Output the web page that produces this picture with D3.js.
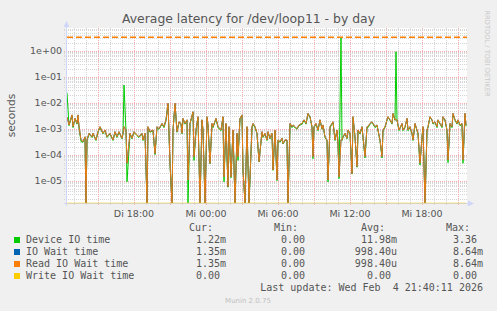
<!DOCTYPE html>
<meta charset="utf-8">
<style>
body { margin: 0; background: #f0f0f0; }
text { font-family: "DejaVu Sans", sans-serif; fill: #555; }
.mono { font-family: "DejaVu Sans Mono", monospace; font-size: 10px; white-space: pre; }
.line { fill: none; stroke-width: 1px; }
</style>
<body>
<script src="https://d3js.org/d3.v7.min.js"></script>
<script>

// sample times, minutes after Di 12:00
var minutes = [
  25,35,50,55,65,75,80,85,95,105,
  115,120,125,135,150,155,170,180,190,205,
  215,225,240,255,265,275,285,300,305,310,
  320,325,340,350,360,375,385,400,405,415,
  425,430,440,455,465,475,485,500,510,520,
  530,540,550,555,565,575,585,595,600,605,
  615,625,630,640,655,660,670,680,690,700,
  705,715,725,730,740,750,755,770,780,795,
  805,810,820,830,835,845,855,865,875,880,
  890,900,905,915,925,935,950,955,965,975,
  985,1000,1005,1015,1025,1030,1040,1050,1055,1065,
  1075,1080,1090,1100,1105,1115,1125,1130,1140,1150,
  1155,1165,1175,1185,1200,1210,1220,1230,1240,1250,
  1255,1260,1270,1280,1290,1300,1305,1315,1325,1330,
  1340,1350,1355,1365,1375,1380,1385,1395,1400,1405,
  1415,1425,1430,1440,1450,1455,1465,1475,1480,1490,
  1500,1505,1515,1525,1530,1540,1550,1555,1565,1575,
  1580,1590,1600,1605,1615,1625,1630,1640,1650,1655,
  1665,1670,1675,1685,1700,1705,1715,1725,1730,1740,
  1750,1755,1765,1775,1780,1790,1800,1805,1815,1825,
  1830,1840,1850,1855,1865,1875,1880,1890,1900,1905,
  1915,1925,1930,1940,1950,1955,1965,1975,1980,1990,
  2000,2005,2015,2020
];

// Device IO time (seconds)
var device = [
  0.024,1.3e-3,3.2e-3,1.1e-3,2.4e-3,1.5e-3,3.2e-3,1.1e-3,3.2e-4,3.0e-4,
  4.6e-4,0,3.4e-4,6.3e-4,4.6e-4,6.4e-4,3.5e-4,7.3e-4,1.1e-3,6.4e-4,
  8.4e-4,4.6e-4,6.3e-4,3.5e-4,7.3e-4,4.6e-4,7.3e-4,4.1e-4,6.3e-4,0.048,
  8.4e-4,9.1e-6,6.3e-4,4.1e-4,7.3e-4,5.4e-4,4.6e-4,6.3e-4,3.5e-4,6.4e-4,
  0,1.1e-3,7.3e-4,8.4e-4,1.0e-4,1.1e-3,9.5e-4,1.5e-3,1.1e-3,2.1e-3,
  9.0e-3,4.5e-5,0,8.4e-4,9.0e-3,7.3e-4,1.75e-3,1.5e-3,6.4e-4,2.4e-3,
  1.5e-3,2.1e-3,0,1.5e-3,4.3e-3,6.0e-5,8.4e-4,2.8e-3,0,2.1e-3,
  8.4e-4,0,2.8e-3,1.3e-3,4.5e-5,1.5e-3,1.1e-3,2.4e-3,1.1e-3,8.4e-4,
  2.8e-3,9.0e-6,1.5e-3,5.6e-6,1.1e-3,1.3e-5,8.4e-4,0,6.4e-4,6.0e-5,
  2.4e-3,3.2e-3,2.5e-5,0,1.1e-3,0,1.1e-3,1.5e-3,1.1e-3,6.4e-4,
  5.4e-5,7.3e-4,4.6e-4,6.3e-4,3.5e-4,7.3e-4,4.1e-4,6.3e-4,2.5e-5,8.4e-4,
  1.0e-5,3.5e-4,3.0e-4,4.1e-4,2.6e-4,3.5e-4,3.5e-4,0,1.5e-3,1.1e-3,
  1.3e-3,1.1e-3,9.5e-4,1.3e-3,1.5e-3,2.1e-3,1.5e-3,3.7e-3,2.8e-3,1.1e-3,
  7.0e-5,1.1e-3,1.5e-3,8.4e-4,2.1e-3,9.5e-4,1.3e-3,4.6e-4,3.5e-4,9.0e-6,
  1.1e-3,1.5e-3,1.75e-3,3.5e-4,8.4e-4,2.6e-4,1.2e-5,3.36,3.5e-4,4.6e-4,
  6.3e-4,4.1e-4,8.4e-4,6.3e-4,1.8e-5,2.8e-3,4.6e-4,3.3e-5,8.4e-4,6.3e-4,
  1.1e-3,4.6e-4,7.5e-5,1.1e-3,1.1e-3,1.5e-3,1.75e-3,1.5e-3,1.1e-3,1.3e-3,
  8.4e-4,3.5e-4,7.5e-5,8.4e-4,1.1e-3,2.1e-3,2.8e-3,2.1e-3,1.5e-3,3.7e-3,
  2.1e-3,0.92,2.1e-3,8.4e-4,1.5e-3,8.4e-4,1.1e-3,2.4e-3,8.4e-4,1.1e-3,
  6.3e-4,3.5e-4,1.5e-3,8.4e-4,6.3e-4,4.0e-5,4.6e-4,1.1e-3,0,8.4e-4,
  1.1e-3,2.8e-3,2.1e-3,1.5e-3,1.75e-3,1.1e-3,2.1e-3,1.5e-3,1.1e-3,2.8e-3,
  2.1e-3,8.4e-4,5.0e-5,1.5e-3,1.1e-3,3.7e-3,2.1e-3,1.5e-3,2.1e-3,1.3e-3,
  1.5e-3,4.7e-5,3.7e-3,1.22e-3
];

// Read IO Wait time (seconds); IO Wait time has the same values
var readWait = [
  2.8e-3,1.4e-3,3.4e-3,1.2e-3,2.5e-3,1.6e-3,3.4e-3,1.2e-3,3.7e-4,3.2e-4,
  4.9e-4,0,3.7e-4,6.7e-4,4.9e-4,6.7e-4,3.7e-4,7.7e-4,1.2e-3,6.7e-4,
  8.9e-4,4.9e-4,6.7e-4,3.7e-4,7.7e-4,4.9e-4,7.7e-4,4.3e-4,6.7e-4,1.2e-3,
  8.9e-4,4.7e-5,6.7e-4,4.3e-4,7.7e-4,5.7e-4,4.9e-4,6.7e-4,3.7e-4,6.7e-4,
  0,1.2e-3,7.7e-4,8.9e-4,1.1e-4,1.2e-3,1.0e-3,1.6e-3,1.2e-3,2.2e-3,
  9.5e-3,4.7e-5,0,8.9e-4,9.5e-3,7.7e-4,1.85e-3,1.6e-3,6.7e-4,2.5e-3,
  1.6e-3,2.2e-3,1.06e-5,1.6e-3,4.5e-3,8.4e-5,8.9e-4,2.9e-3,0,2.2e-3,
  8.9e-4,0,2.9e-3,1.4e-3,4.7e-5,1.6e-3,1.2e-3,2.5e-3,1.2e-3,8.9e-4,
  2.9e-3,1.4e-5,1.6e-3,5.9e-6,1.2e-3,1.4e-5,8.9e-4,0,6.7e-4,8.4e-5,
  2.5e-3,3.4e-3,2.6e-5,0,1.2e-3,0,1.2e-3,1.6e-3,1.2e-3,6.7e-4,
  5.4e-5,7.7e-4,4.9e-4,6.7e-4,3.7e-4,7.7e-4,4.3e-4,6.7e-4,2.6e-5,8.9e-4,
  1.06e-5,3.7e-4,3.2e-4,4.3e-4,2.7e-4,3.7e-4,3.7e-4,0,1.6e-3,1.2e-3,
  1.4e-3,1.2e-3,1.0e-3,1.4e-3,1.6e-3,2.2e-3,1.6e-3,3.9e-3,2.9e-3,1.2e-3,
  8.4e-5,1.2e-3,1.6e-3,8.9e-4,2.2e-3,1.0e-3,1.4e-3,4.9e-4,3.7e-4,1.06e-5,
  1.2e-3,1.6e-3,1.85e-3,3.7e-4,8.9e-4,2.7e-4,1.4e-5,3.7e-4,3.7e-4,4.9e-4,
  6.7e-4,4.3e-4,8.9e-4,6.7e-4,1.9e-5,2.9e-3,4.9e-4,3.5e-5,8.9e-4,6.7e-4,
  1.2e-3,4.9e-4,8.4e-5,1.2e-3,1.2e-3,1.6e-3,1.85e-3,1.6e-3,1.2e-3,1.4e-3,
  8.9e-4,3.7e-4,8.4e-5,8.9e-4,1.2e-3,2.2e-3,2.9e-3,2.2e-3,1.6e-3,3.9e-3,
  2.2e-3,2.2e-3,2.2e-3,8.9e-4,1.6e-3,8.9e-4,1.2e-3,2.5e-3,8.9e-4,1.2e-3,
  6.7e-4,3.7e-4,1.6e-3,8.9e-4,6.7e-4,4.7e-5,4.9e-4,1.2e-3,0,8.9e-4,
  1.2e-3,2.9e-3,2.2e-3,1.6e-3,1.85e-3,1.2e-3,2.2e-3,1.6e-3,1.2e-3,2.9e-3,
  2.2e-3,8.9e-4,6.3e-5,1.6e-3,1.2e-3,3.9e-3,2.2e-3,1.6e-3,2.2e-3,1.4e-3,
  1.6e-3,6.3e-5,3.9e-3,1.35e-3
];
var ioWait = readWait;

// Write IO Wait time stays at 0 all day
var writeMinutes = [25, 2020];
var writeWait = [0, 0];

// dashed rule near the top
var ruleValue = 3.3;

var yTickValues = [1e-5, 1e-4, 1e-3, 1e-2, 1e-1, 1];
var yTickLabels = ["1e-05", "1e-04", "1e-03", "1e-02", "1e-01", "1e+00"];
var xTickValues = [360, 720, 1080, 1440, 1800];
var xTickLabels = ["Di 18:00", "Mi 00:00", "Mi 06:00", "Mi 12:00", "Mi 18:00"];

var names = ["Device IO time", "IO Wait time", "Read IO Wait time", "Write IO Wait time"];
var colors = ["#00cc00", "#0066b3", "#ff8000", "#ffcc00"];
var curVals = ["1.22m", "1.35m", "1.35m", "0.00"];
var minVals = ["0.00", "0.00", "0.00", "0.00"];
var avgVals = ["11.98m", "998.40u", "998.40u", "0.00"];
var maxVals = ["3.36", "8.64m", "8.64m", "0.00"];

// plot box
var pLeft = 67, pRight = 467, pTop = 28, pBottom = 203;

var svg = d3.select("body").append("svg")
    .attr("width", 497)
    .attr("height", 311);

svg.append("rect").attr("width", 497).attr("height", 311).attr("fill", "#f0f0f0");
svg.append("rect")
    .attr("x", pLeft - 1).attr("y", pTop)
    .attr("width", pRight - pLeft + 1).attr("height", pBottom - pTop)
    .attr("fill", "#fff");

var x = d3.scaleLinear().domain([25, 2025]).range([pLeft, pRight]);
var y = d3.scaleLog().domain([1.39e-6, 7.47]).range([pBottom, pTop]);
function yv(v) { return v > 0 ? y(v) : pBottom; }

// grid
var isDecade = function(v) { return Math.abs(Math.log10(v) - Math.round(Math.log10(v))) < 1e-6; };
var minorY = y.ticks().filter(function(v) { return !isDecade(v); });
var majorY = y.ticks().filter(isDecade);
var grid = svg.append("g");
grid.selectAll(".hmin").data(minorY).enter().append("line")
    .attr("x1", pLeft - 3).attr("x2", pRight)
    .attr("y1", function(d) { return Math.round(y(d)) + 0.5; })
    .attr("y2", function(d) { return Math.round(y(d)) + 0.5; })
    .attr("stroke", "#d6d6d6").attr("stroke-dasharray", "1,1");
grid.selectAll(".vmin").data(d3.range(60, 2025, 60)).enter().append("line")
    .attr("y1", pTop).attr("y2", pBottom + 2)
    .attr("x1", function(d) { return Math.round(x(d)) + 0.5; })
    .attr("x2", function(d) { return Math.round(x(d)) + 0.5; })
    .attr("stroke", "#d6d6d6").attr("stroke-dasharray", "1,1");
grid.selectAll(".hmaj").data(majorY).enter().append("line")
    .attr("x1", pLeft - 3).attr("x2", pRight)
    .attr("y1", function(d) { return Math.round(y(d)) + 0.5; })
    .attr("y2", function(d) { return Math.round(y(d)) + 0.5; })
    .attr("stroke", "#f2b0b0").attr("stroke-dasharray", "1,1");
grid.selectAll(".vmaj").data(d3.range(180, 2025, 180)).enter().append("line")
    .attr("y1", pTop).attr("y2", pBottom + 3)
    .attr("x1", function(d) { return Math.round(x(d)) + 0.5; })
    .attr("x2", function(d) { return Math.round(x(d)) + 0.5; })
    .attr("stroke", "#f2b0b0").attr("stroke-dasharray", "1,1");

// axes lines and arrows
svg.append("line").attr("x1", pLeft - 0.5).attr("x2", pLeft - 0.5)
    .attr("y1", pBottom + 3).attr("y2", pTop - 4).attr("stroke", "#cfd6f8");
svg.append("path").attr("d", "M" + (pLeft - 0.5) + "," + (pTop - 7) + "l-3,6h6z").attr("fill", "#cfd6f8");
svg.append("line").attr("x1", pLeft - 3).attr("x2", pRight + 2)
    .attr("y1", pBottom + 0.5).attr("y2", pBottom + 0.5).attr("stroke", "#cfd6f8");
svg.append("path").attr("d", "M" + (pRight + 7) + "," + (pBottom + 0.5) + "l-6,-3v6z").attr("fill", "#cfd6f8");

// y labels
svg.selectAll(".ylab").data(yTickValues).enter().append("text")
    .attr("x", 62).attr("y", function(d) { return y(d) + 3.5; })
    .attr("text-anchor", "end").style("font-size", "9.5px")
    .text(function(d, i) { return yTickLabels[i]; });

// x labels
svg.selectAll(".xlab").data(xTickValues).enter().append("text")
    .attr("x", function(d) { return x(d); }).attr("y", 216.5)
    .attr("text-anchor", "middle").style("font-size", "9.5px")
    .text(function(d, i) { return xTickLabels[i]; });

// lines
svg.append("clipPath").attr("id", "clip").append("rect")
    .attr("x", pLeft).attr("y", pTop - 2).attr("width", pRight - pLeft).attr("height", pBottom - pTop + 3);
var plot = svg.append("g").attr("clip-path", "url(#clip)");

var line = d3.line()
    .x(function(d) { return x(d[0]); })
    .y(function(d) { return yv(d[1]); });

var series = [device, ioWait, readWait];
series.forEach(function(s, i) {
  plot.append("path")
      .datum(d3.zip(minutes, s))
      .attr("class", "line")
      .style("stroke", colors[i])
      .style("stroke-opacity", i == 2 ? 0.9 : 1)
      .attr("d", line);
});
plot.append("path")
    .datum(d3.zip(writeMinutes, writeWait))
    .attr("class", "line")
    .style("stroke", colors[3])
    .style("stroke-opacity", 0.5)
    .attr("d", line);

// dashed rule
svg.append("line")
    .attr("x1", pLeft).attr("x2", pRight)
    .attr("y1", y(ruleValue)).attr("y2", y(ruleValue))
    .attr("stroke", "#ff8000").attr("stroke-width", 1.3)
    .attr("stroke-dasharray", "6,3");

// title and side texts
svg.append("text").attr("x", 248.5).attr("y", 23)
    .attr("text-anchor", "middle").style("font-size", "12.4px")
    .text("Average latency for /dev/loop11 - by day");
svg.append("text").attr("transform", "translate(15,115.5) rotate(-90)")
    .attr("text-anchor", "middle").style("font-size", "10.7px")
    .text("seconds");
svg.append("text").attr("transform", "translate(484.5,53.5) rotate(90)")
    .attr("text-anchor", "middle").style("font-size", "6.7px").style("fill", "#c8c8c8")
    .text("RRDTOOL / TOBI OETIKER");

// legend
var headY = 231, rowY = [243, 255, 267, 279];
[["Cur:", 213], ["Min:", 298], ["Avg:", 385], ["Max:", 470]].forEach(function(h) {
  svg.append("text").attr("class", "mono").attr("x", h[1]).attr("y", headY)
      .attr("text-anchor", "end").text(h[0]);
});
function valX(colRight, s) { return /[a-z]$/.test(s) ? colRight : colRight - 6; }
names.forEach(function(n, i) {
  svg.append("rect").attr("x", 14).attr("y", rowY[i] - 6).attr("width", 6).attr("height", 6)
      .attr("fill", colors[i]);
  svg.append("text").attr("class", "mono").attr("x", 26).attr("y", rowY[i]).text(n);
  [[curVals, 226], [minVals, 311], [avgVals, 397], [maxVals, 483]].forEach(function(c) {
    svg.append("text").attr("class", "mono").attr("text-anchor", "end")
        .attr("x", valX(c[1], c[0][i])).attr("y", rowY[i]).text(c[0][i]);
  });
});
svg.append("text").attr("class", "mono").attr("x", 483).attr("y", 291)
    .attr("text-anchor", "end").text("Last update: Wed Feb  4 21:40:11 2026");
svg.append("text").attr("x", 248).attr("y", 303)
    .attr("text-anchor", "middle").style("font-size", "7px").style("fill", "#c0c0c0")
    .text("Munin 2.0.75");

</script>
</body>
